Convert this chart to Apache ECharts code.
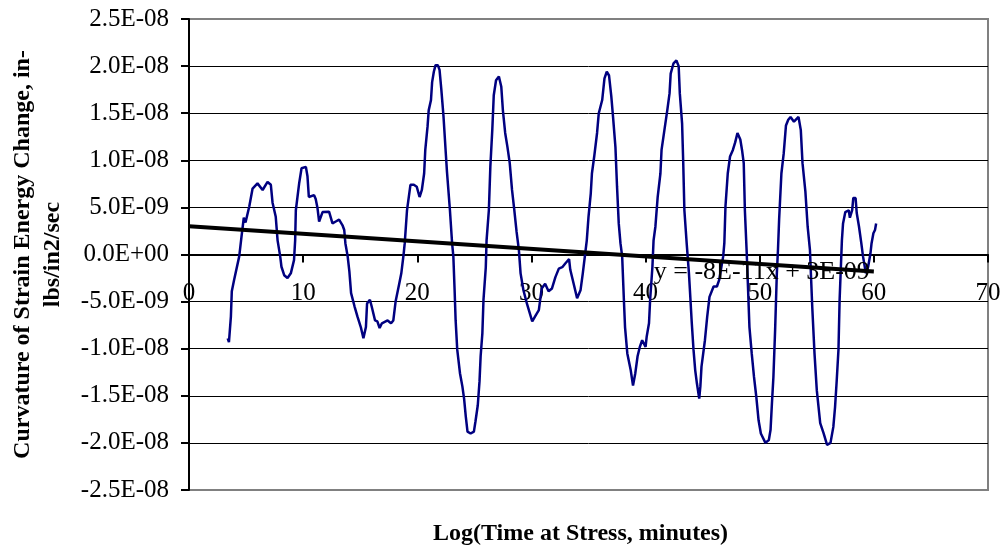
<!DOCTYPE html>
<html>
<head>
<meta charset="utf-8">
<script src="https://cdn.jsdelivr.net/npm/echarts@6/dist/echarts.min.js"></script>
<style>
  html, body { margin: 0; padding: 0; background: #fff; }
  #chart { width: 1005px; height: 552px; }
</style>
</head>
<body>
<div id="chart"></div>
<script>
// Log(time at stress) values
const timeLog = [
  3.39, 3.5, 3.67, 3.75, 3.95, 4.4, 4.6, 4.8, 4.95, 5.28, 5.57, 6.0, 6.45, 6.88, 7.17, 7.32, 7.6, 7.76, 7.99, 8.1,
  8.34, 8.63, 8.92, 9.2, 9.3, 9.36, 9.65, 9.86, 10.24, 10.38, 10.5, 10.96, 11.1, 11.26, 11.4, 11.7, 12.27, 12.57, 12.86, 13.15,
  13.45, 13.6, 13.7, 13.9, 14.05, 14.2, 14.5, 14.76, 15.05, 15.28, 15.5, 15.6, 15.85, 16.0, 16.3, 16.5, 16.7, 16.9, 17.4, 17.7,
  17.9, 18.1, 18.4, 18.6, 18.8, 18.9, 19.1, 19.4, 19.7, 19.95, 20.2, 20.4, 20.6, 20.7, 20.9, 21.0, 21.2, 21.3, 21.45, 21.6,
  21.8, 21.95, 22.1, 22.3, 22.5, 22.6, 22.86, 23.05, 23.16, 23.27, 23.36, 23.5, 23.74, 23.95, 24.1, 24.25, 24.4, 24.67, 24.96, 25.1,
  25.3, 25.45, 25.55, 25.7, 25.8, 26.0, 26.07, 26.27, 26.4, 26.57, 26.7, 26.9, 27.15, 27.36, 27.5, 27.7, 27.9, 28.1, 28.3, 28.5,
  28.7, 28.9, 29.05, 29.3, 29.6, 29.9, 30.07, 30.4, 30.65, 30.8, 30.9, 31.2, 31.5, 31.8, 32.1, 32.4, 32.7, 33.0, 33.3, 33.4,
  33.7, 34.0, 34.3, 34.5, 34.7, 34.85, 35.0, 35.2, 35.3, 35.5, 35.75, 35.9, 36.2, 36.4, 36.6, 36.8, 37.0, 37.15, 37.36, 37.5,
  37.65, 37.8, 37.95, 38.1, 38.2, 38.4, 38.7, 38.9, 39.1, 39.3, 39.5, 39.7, 40.0, 40.1, 40.3, 40.4, 40.6, 40.7, 40.86, 41.06,
  41.3, 41.4, 41.65, 41.9, 42.1, 42.2, 42.45, 42.7, 42.9, 43.0, 43.2, 43.3, 43.4, 43.6, 43.8, 43.9, 44.05, 44.2, 44.35, 44.5,
  44.7, 44.8, 44.9, 45.2, 45.4, 45.6, 45.96, 46.25, 46.45, 46.8, 46.9, 47.0, 47.2, 47.4, 47.65, 47.85, 48.05, 48.3, 48.45, 48.6,
  48.7, 48.85, 48.95, 49.1, 49.3, 49.5, 49.7, 49.9, 50.1, 50.5, 50.8, 50.95, 51.07, 51.2, 51.35, 51.5, 51.6, 51.7, 51.9, 52.1,
  52.3, 52.5, 52.7, 53.0, 53.4, 53.6, 53.75, 54.0, 54.2, 54.4, 54.6, 54.8, 55.0, 55.3, 55.6, 55.9, 56.2, 56.45, 56.6, 56.75,
  56.9, 57.0, 57.2, 57.3, 57.5, 57.8, 57.9, 58.1, 58.2, 58.4, 58.5, 58.7, 58.9, 59.05, 59.3, 59.5, 59.7, 59.8, 59.96, 60.1,
  60.2
];

// Curvature of strain energy change, in units of 1E-09 in-lbs/in2/sec
const curvatureE9 = [
  -8.9, -9.3, -6.6, -3.9, -2.7, -0.2, 1.9, 3.9, 3.4, 5.1, 7.0, 7.55, 6.85, 7.7, 7.4, 5.5, 4.0, 1.5, -0.2, -1.3,
  -2.2, -2.5, -2.0, -0.6, 1.5, 4.7, 7.55, 9.15, 9.3, 8.3, 6.1, 6.3, 5.9, 4.9, 3.5, 4.5, 4.55, 3.3, 3.5, 3.7,
  3.1, 2.6, 1.2, -0.2, -1.8, -4.1, -5.5, -6.6, -7.7, -8.9, -7.7, -5.2, -4.8, -5.5, -7.0, -7.1, -7.8, -7.3, -7.0, -7.3,
  -7.0, -5.0, -3.2, -2.0, 0.0, 1.2, 4.7, 7.4, 7.4, 7.2, 6.1, 6.85, 8.6, 11.1, 13.6, 15.3, 16.4, 18.3, 19.4, 20.1,
  20.1, 19.6, 17.6, 14.6, 10.7, 8.8, 4.7, 1.2, -0.2, -3.8, -7.0, -10.1, -12.6, -14.0, -15.3, -17.2, -18.8, -19.0, -18.8, -17.7,
  -16.0, -13.5, -10.8, -8.4, -4.8, -1.4, 1.5, 4.7, 9.3, 13.2, 16.9, 18.5, 18.9, 17.8, 15.3, 12.9, 11.4, 9.7, 6.85, 4.7,
  2.4, 0.5, -2.0, -3.8, -5.2, -6.4, -7.1, -6.4, -5.9, -4.5, -3.6, -3.1, -3.9, -3.6, -2.4, -1.5, -1.35, -0.9, -0.5, -1.6,
  -3.1, -4.65, -3.8, -2.0, 0.0, 1.5, 4.0, 6.5, 8.6, 10.4, 12.9, 15.0, 16.4, 18.7, 19.4, 19.0, 16.75, 14.6, 11.4, 7.2,
  3.3, 1.2, -0.2, -4.8, -7.7, -10.5, -12.3, -13.9, -12.6, -10.8, -9.8, -9.1, -9.8, -8.7, -7.3, -4.8, -1.3, 1.5, 2.95, 6.1,
  8.6, 11.1, 13.2, 15.3, 17.1, 19.2, 20.3, 20.6, 20.0, 17.1, 13.9, 9.7, 4.7, 1.2, -2.0, -4.1, -7.3, -10.1, -12.3, -13.7,
  -15.3, -14.0, -11.9, -9.1, -6.6, -4.5, -3.4, -3.4, -2.7, -0.2, 1.2, 5.1, 8.6, 10.4, 11.1, 11.9, 12.9, 12.2, 11.1, 9.7,
  4.7, 0.5, -2.7, -7.7, -10.5, -13.0, -15.1, -17.6, -19.0, -20.0, -19.7, -18.6, -15.8, -13.0, -8.0, -2.0, 0.5, 3.7, 8.6, 10.7,
  13.7, 14.3, 14.6, 14.1, 14.6, 13.2, 9.7, 6.7, 2.95, 0.5, -5.5, -10.5, -14.4, -17.9, -19.0, -20.2, -20.0, -18.3, -16.2, -13.3,
  -10.1, -4.8, 1.5, 3.3, 4.5, 4.7, 3.9, 4.7, 6.0, 6.0, 4.4, 2.95, 1.2, -0.2, -2.0, -1.3, 0.1, 1.2, 2.25, 2.6,
  3.3
];

// Linear trend line coefficients and the x range it spans
const trendSlope = -8e-11;
const trendIntercept = 3e-9;
const trendRange = [0, 60];

// Axis scale
const xTicks = { min: 0, max: 70, interval: 10 };
const yTicks = { min: -2.5e-8, max: 2.5e-8, interval: 5e-9 };

const FONT = "'Liberation Serif', 'Times New Roman', serif";

// Spreadsheet-style scientific notation, e.g. 2.5E-08
function sci(v, digits) {
  const parts = v.toExponential(digits).split('e');
  const exp = parts[1];
  const sign = exp[0] === '-' ? '-' : '+';
  const expDigits = exp.replace(/[+-]/, '').padStart(2, '0');
  return parts[0] + 'E' + sign + expDigits;
}

const curveData = timeLog.map((x, i) => [x, curvatureE9[i] * 1e-9]);
const trendData = trendRange.map(x => [x, trendSlope * x + trendIntercept]);
const eqText = 'y = ' + sci(trendSlope, 0) + 'x ' + (trendIntercept < 0 ? '- ' : '+ ') + sci(Math.abs(trendIntercept), 0);

const chart = echarts.init(document.getElementById('chart'), null, { renderer: 'canvas' });

const W = 1005, H = 552;
const gridBox = { left: 188, right: 17, top: 19, bottom: 62 };
const plotHeight = H - gridBox.top - gridBox.bottom;
// distance from the bottom edge of the plot to the zero line (y axis is symmetric)
const zeroFromBottom = plotHeight / 2;

chart.setOption({
  animation: false,
  backgroundColor: '#ffffff',
  textStyle: { fontFamily: FONT },
  grid: {
    left: gridBox.left, right: gridBox.right, top: gridBox.top, bottom: gridBox.bottom,
    show: true, borderColor: '#808080', borderWidth: 2, backgroundColor: 'transparent'
  },
  xAxis: {
    type: 'value',
    min: xTicks.min, max: xTicks.max, interval: xTicks.interval,
    axisLine: { show: true, onZero: true, lineStyle: { color: '#000', width: 2 } },
    axisTick: { show: true, inside: false, length: 8, lineStyle: { color: '#000', width: 2 } },
    // labels sit just under the zero line
    axisLabel: { color: '#000', fontFamily: FONT, fontSize: 25, margin: 26 - zeroFromBottom },
    splitLine: { show: false }
  },
  yAxis: {
    type: 'value',
    min: yTicks.min, max: yTicks.max, interval: yTicks.interval,
    name: 'Curvature of Strain Energy Change, in-\nlbs/in2/sec',
    nameLocation: 'middle',
    nameRotate: 90,
    nameGap: 121,
    nameTextStyle: { color: '#000', fontFamily: FONT, fontSize: 24, fontWeight: 'bold', lineHeight: 30, align: 'center' },
    axisLine: { show: true, lineStyle: { color: '#000', width: 2 } },
    axisTick: { show: true, inside: false, length: 8, lineStyle: { color: '#000', width: 2 } },
    axisLabel: { color: '#000', fontFamily: FONT, fontSize: 25, margin: 20, formatter: v => sci(v, 1) },
    splitLine: { show: true, showMinLine: false, showMaxLine: false, lineStyle: { color: '#000', width: 1 } }
  },
  graphic: [
    {
      type: 'text',
      left: 433,
      top: 522,
      style: {
        text: 'Log(Time at Stress, minutes)',
        font: 'bold 24px ' + FONT,
        fill: '#000'
      }
    }
  ],
  series: [
    {
      type: 'line',
      data: curveData,
      showSymbol: false,
      symbol: 'none',
      lineStyle: { color: '#000080', width: 2.5 },
      z: 2
    },
    {
      type: 'line',
      data: trendData,
      showSymbol: false,
      symbol: 'none',
      lineStyle: { color: '#000', width: 4 },
      z: 3,
      endLabel: {
        show: true,
        formatter: eqText,
        fontFamily: FONT,
        fontSize: 26,
        color: '#000',
        align: 'right',
        offset: [-12, 1]
      }
    }
  ]
});
</script>
</body>
</html>
